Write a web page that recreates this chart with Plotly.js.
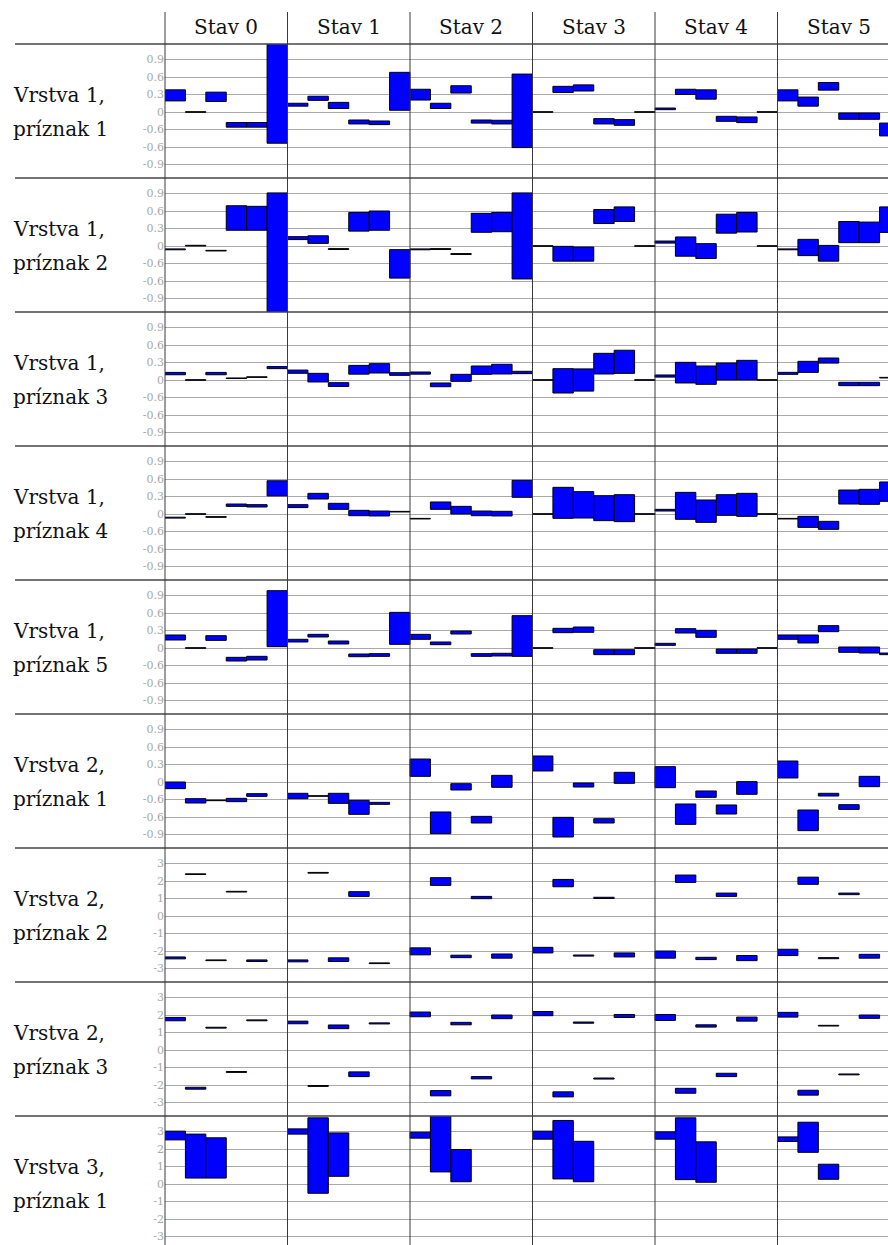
<!DOCTYPE html>
<html>
<head>
<meta charset="utf-8">
<script src="https://cdn.plot.ly/plotly-3.0.1.min.js"></script>
<style>html,body{margin:0;padding:0;background:#fff;}#chart{width:888px;height:1245px;}</style>
</head>
<body>
<div id="chart"></div>
<script>
// ---------- data ----------
const stavLabels = ['Stav 0', 'Stav 1', 'Stav 2', 'Stav 3', 'Stav 4', 'Stav 5'];
const rowLabelTop = ['Vrstva 1,', 'Vrstva 1,', 'Vrstva 1,', 'Vrstva 1,', 'Vrstva 1,', 'Vrstva 2,', 'Vrstva 2,', 'Vrstva 2,', 'Vrstva 3,'];
const rowLabelBottom = ['príznak 1', 'príznak 2', 'príznak 3', 'príznak 4', 'príznak 5', 'príznak 1', 'príznak 2', 'príznak 3', 'príznak 1'];

const smallTickVals = [0.9, 0.6, 0.3, 0, -0.3, -0.6, -0.9];
const smallTickText = ['0.9', '0.6', '0.3', '0', '-0.6', '-0.6', '-0.9'];
const bigTickVals = [3, 2, 1, 0, -1, -2, -3];
const bigTickText = ['3', '2', '1', '0', '-1', '-2', '-3'];

// each row: 6 states x 6 bars (low / high)
const v1p1Low  = [0.19,-0.005,0.18,-0.26,-0.26,-0.535,  0.10,0.20,0.06,-0.205,-0.216,0.03,  0.205,0.06,0.325,-0.19,-0.205,-0.61,  -0.005,0.335,0.36,-0.205,-0.228,-0.005,  0.04,0.30,0.22,-0.16,-0.182,-0.005,  0.19,0.10,0.375,-0.125,-0.125,-0.41];
const v1p1High = [0.38,0.005,0.34,-0.18,-0.18,1.25,  0.15,0.27,0.165,-0.137,-0.154,0.68,  0.39,0.15,0.45,-0.137,-0.142,0.65,  0.005,0.44,0.465,-0.114,-0.131,0.005,  0.068,0.39,0.38,-0.074,-0.085,0.005,  0.38,0.256,0.505,-0.017,-0.017,-0.19];

const v1p2Low  = [-0.065,0,-0.085,0.27,0.27,-1.25,  0.11,0.045,-0.06,0.255,0.27,-0.55,  -0.065,-0.06,-0.145,0.235,0.245,-0.565,  -0.005,-0.26,-0.26,0.385,0.42,-0.005,  0.05,-0.175,-0.215,0.22,0.24,-0.005,  -0.065,-0.165,-0.26,0.057,0.057,0.233];
const v1p2High = [-0.05,0.012,-0.075,0.69,0.68,0.91,  0.16,0.175,-0.045,0.575,0.6,-0.063,  -0.05,-0.045,-0.13,0.56,0.575,0.91,  0.005,-0.006,-0.017,0.625,0.67,0.005,  0.085,0.155,0.04,0.545,0.575,0.005,  -0.05,0.114,0.01,0.42,0.41,0.67];

const v1p3Low  = [0.09,-0.005,0.09,0.025,0.045,0.195,  0.115,-0.034,-0.11,0.10,0.12,0.08,  0.10,-0.115,-0.023,0.097,0.103,0.109,  -0.005,-0.223,-0.19,0.103,0.114,-0.005,  0.05,-0.051,-0.074,0,0,-0.005,  0.097,0.131,0.29,-0.097,-0.097,0.035];
const v1p3High = [0.13,0.005,0.13,0.035,0.055,0.23,  0.17,0.114,-0.046,0.25,0.28,0.125,  0.137,-0.051,0.097,0.24,0.269,0.149,  0.005,0.194,0.19,0.457,0.51,0.005,  0.086,0.303,0.24,0.291,0.337,0.005,  0.131,0.32,0.377,-0.04,-0.04,0.045];

const v1p4Low  = [-0.07,-0.005,-0.057,0.131,0.12,0.31,  0.11,0.257,0.08,-0.029,-0.034,0.035,  -0.085,0.08,0,-0.029,-0.034,0.286,  -0.005,-0.074,-0.069,-0.114,-0.131,-0.005,  0.051,-0.091,-0.143,-0.023,-0.04,-0.005,  -0.085,-0.229,-0.263,0.171,0.166,0.217];
const v1p4High = [-0.055,0.005,-0.045,0.171,0.16,0.57,  0.16,0.354,0.183,0.063,0.051,0.045,  -0.075,0.206,0.131,0.051,0.046,0.577,  0.005,0.457,0.383,0.314,0.331,0.005,  0.08,0.371,0.24,0.331,0.354,0.005,  -0.075,-0.04,-0.126,0.411,0.423,0.549];

const v1p5Low  = [0.137,-0.005,0.131,-0.223,-0.206,0.023,  0.103,0.189,0.069,-0.149,-0.143,0.063,  0.149,0.057,0.24,-0.143,-0.137,-0.143,  -0.005,0.263,0.269,-0.114,-0.114,-0.005,  0.046,0.257,0.183,-0.091,-0.091,-0.005,  0.149,0.086,0.28,-0.074,-0.086,-0.114];
const v1p5High = [0.223,0.005,0.211,-0.16,-0.143,0.983,  0.149,0.234,0.12,-0.103,-0.097,0.611,  0.234,0.103,0.291,-0.097,-0.091,0.554,  0.005,0.337,0.36,-0.029,-0.029,0.005,  0.08,0.331,0.303,-0.017,-0.017,0.005,  0.223,0.223,0.383,0.017,0.017,-0.086];

const v2p1Low  = [-0.114,-0.36,-0.32,-0.337,-0.246,null,  -0.286,-0.245,-0.366,-0.554,-0.383,null,  0.097,-0.886,-0.137,-0.703,-0.091,null,  0.189,-0.943,-0.086,-0.703,-0.023,null,  -0.097,-0.726,-0.263,-0.549,-0.211,null,  0.069,-0.834,-0.24,-0.469,-0.08,null];
const v2p1High = [0,-0.286,-0.31,-0.28,-0.2,null,  -0.194,-0.235,-0.194,-0.314,-0.349,null,  0.394,-0.514,-0.029,-0.589,0.114,null,  0.446,-0.606,-0.017,-0.629,0.166,null,  0.263,-0.377,-0.154,-0.394,0.006,null,  0.36,-0.48,-0.194,-0.389,0.097,null];

const v2p2Low  = [-2.45,2.37,-2.55,1.37,-2.6,null,  -2.62,2.45,-2.6,1.12,-2.72,null,  -2.22,1.75,-2.38,0.99,-2.41,null,  -2.11,1.67,-2.29,1.0,-2.34,null,  -2.41,1.92,-2.49,1.12,-2.55,null,  -2.26,1.81,-2.44,1.22,-2.41,null];
const v2p2High = [-2.34,2.41,-2.51,1.41,-2.51,null,  -2.51,2.49,-2.39,1.39,-2.68,null,  -1.82,2.19,-2.24,1.12,-2.17,null,  -1.79,2.09,-2.23,1.07,-2.11,null,  -2.0,2.34,-2.36,1.31,-2.26,null,  -1.9,2.22,-2.38,1.31,-2.19,null];

const v2p3Low  = [1.67,-2.24,1.25,-1.28,1.67,null,  1.5,-2.08,1.22,-1.52,1.49,null,  1.9,-2.62,1.44,-1.65,1.79,null,  1.96,-2.68,1.53,-1.66,1.86,null,  1.69,-2.47,1.31,-1.52,1.65,null,  1.88,-2.58,1.37,-1.42,1.81,null];
const v2p3High = [1.86,-2.13,1.3,-1.23,1.72,null,  1.65,-2.03,1.43,-1.25,1.55,null,  2.17,-2.32,1.58,-1.52,2.0,null,  2.2,-2.39,1.6,-1.6,2.03,null,  2.03,-2.19,1.44,-1.33,1.88,null,  2.15,-2.3,1.41,-1.37,2.0,null];

const v3p1Low  = [2.52,0.34,0.34,null,null,null,  2.85,-0.53,0.44,null,null,null,  2.62,0.69,0.13,null,null,null,  2.56,0.29,0.13,null,null,null,  2.56,0.25,0.1,null,null,null,  2.43,1.81,0.27,null,null,null];
const v3p1High = [3.02,2.85,2.64,null,null,null,  3.15,3.78,2.92,null,null,null,  2.96,3.95,1.97,null,null,null,  3.02,3.63,2.44,null,null,null,  2.98,3.78,2.41,null,null,null,  2.69,3.53,1.13,null,null,null];

// ---------- assembly ----------
const rows = [
  {low: v1p1Low, high: v1p1High, big: false},
  {low: v1p2Low, high: v1p2High, big: false},
  {low: v1p3Low, high: v1p3High, big: false},
  {low: v1p4Low, high: v1p4High, big: false},
  {low: v1p5Low, high: v1p5High, big: false},
  {low: v2p1Low, high: v2p1High, big: false},
  {low: v2p2Low, high: v2p2High, big: true},
  {low: v2p3Low, high: v2p3High, big: true},
  {low: v3p1Low, high: v3p1High, big: true}
];

const W = 888, H = 1245;
const plotLeft = 165, colW = 122.5, headTop = 44, rowH = 134, zeroOff = 68;
const barPx = colW / 6;
const serif = '"DejaVu Serif", "Liberation Serif", serif';
const px = v => v / W;
const py = v => 1 - v / H;

const traces = [];
const layout = {
  width: W, height: H,
  margin: {l: 0, r: 0, t: 0, b: 0},
  paper_bgcolor: '#fff', plot_bgcolor: 'rgba(0,0,0,0)',
  font: {family: serif},
  showlegend: false, bargap: 0,
  annotations: [], shapes: []
};

rows.forEach((row, k) => {
  const sfx = k === 0 ? '' : String(k + 1);
  const top = headTop + rowH * k;
  const bottom = Math.min(top + rowH, H);
  const unitPx = row.big ? 17.5 : 17.5 / 0.3;
  const xs = [], ys = [], bases = [];
  row.low.forEach((lo, i) => {
    xs.push(i);
    const hi = row.high[i];
    if (lo === null || hi === null) { ys.push(null); bases.push(null); }
    else { ys.push(hi - lo); bases.push(lo); }
  });
  traces.push({
    type: 'bar', x: xs, y: ys, base: bases, width: 1,
    xaxis: 'x' + sfx, yaxis: 'y' + sfx,
    marker: {color: '#0000ff', line: {color: '#000', width: 1}},
    hoverinfo: 'skip'
  });
  layout['xaxis' + sfx] = {
    domain: [px(plotLeft), 1], anchor: 'y' + sfx,
    range: [-0.5, -0.5 + (W - plotLeft) / barPx],
    visible: false, fixedrange: true
  };
  layout['yaxis' + sfx] = {
    domain: [py(bottom), py(top)], anchor: 'x' + sfx,
    range: [-(bottom - top - zeroOff) / unitPx, zeroOff / unitPx],
    tickmode: 'array',
    tickvals: row.big ? bigTickVals : smallTickVals,
    ticktext: row.big ? bigTickText : smallTickText,
    showgrid: true, gridcolor: '#a9a9a9', gridwidth: 1,
    zeroline: false, showline: false, ticks: '',
    tickfont: {family: serif, size: 11, color: '#a8a8a8'},
    fixedrange: true
  };
  // row labels
  layout.annotations.push({
    xref: 'paper', yref: 'paper', x: px(11), y: py(top + 51), xanchor: 'left', yanchor: 'middle',
    text: rowLabelTop[k], showarrow: false, font: {family: serif, size: 20, color: '#111'}
  });
  layout.annotations.push({
    xref: 'paper', yref: 'paper', x: px(11), y: py(top + 85), xanchor: 'left', yanchor: 'middle',
    text: rowLabelBottom[k], showarrow: false, font: {family: serif, size: 20, color: '#111'}
  });
  // row separator
  layout.shapes.push({
    type: 'line', xref: 'paper', yref: 'paper', layer: 'above',
    x0: px(15), x1: 1, y0: py(top), y1: py(top),
    line: {color: '#444', width: 1.3}
  });
});

// column headers and separators
stavLabels.forEach((s, j) => {
  layout.annotations.push({
    xref: 'paper', yref: 'paper', x: px(plotLeft + colW * (j + 0.5)), y: py(27),
    xanchor: 'center', yanchor: 'middle', text: s, showarrow: false,
    font: {family: serif, size: 20, color: '#111'}
  });
  layout.shapes.push({
    type: 'line', xref: 'paper', yref: 'paper', layer: 'above',
    x0: px(plotLeft + colW * j), x1: px(plotLeft + colW * j), y0: 0, y1: py(12),
    line: {color: '#3a3a3a', width: 1}
  });
});

Plotly.newPlot('chart', traces, layout, {staticPlot: true, displayModeBar: false});
</script>
</body>
</html>
